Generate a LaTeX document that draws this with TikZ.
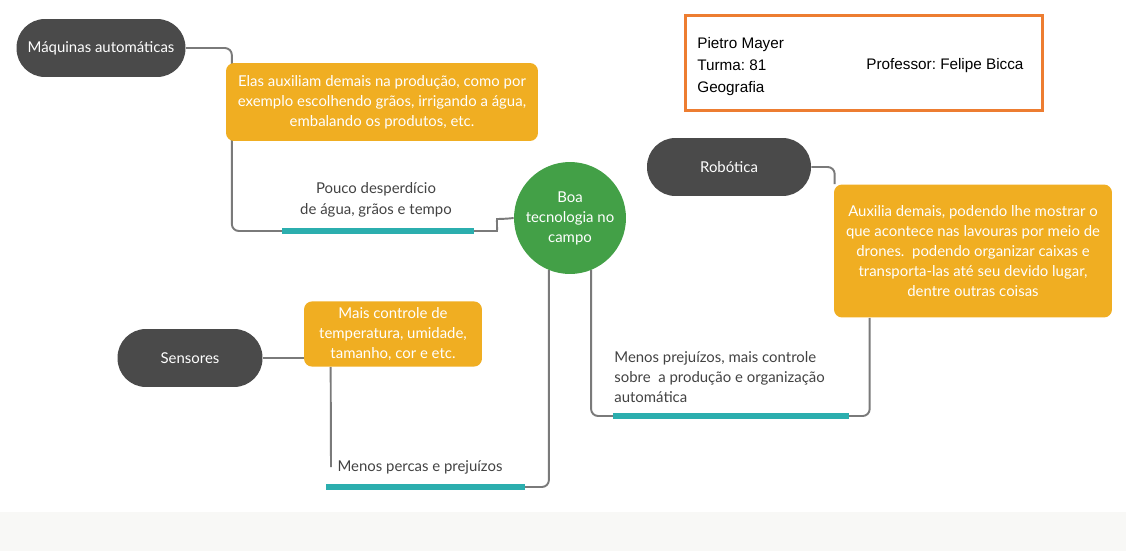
\documentclass[tikz,border=0pt]{standalone}
\usepackage{fontspec}
\setmainfont{Lato}
\newfontfamily\arialfont{Liberation Sans}
\usetikzlibrary{positioning,backgrounds}

\definecolor{topicgray}{RGB}{74,74,74}
\definecolor{noteorange}{RGB}{240,174,34}
\definecolor{hubgreen}{RGB}{67,160,71}
\definecolor{barteal}{RGB}{43,174,174}
\definecolor{linkgray}{RGB}{122,122,122}
\definecolor{remarkgray}{RGB}{66,66,66}
\definecolor{frameorange}{RGB}{237,125,49}
\definecolor{bandgray}{RGB}{248,248,246}

\begin{document}
\frenchspacing
\begin{tikzpicture}[x=0.02cm,y=-0.02cm,
	% Topic style
	topic/.style={rectangle,fill=topicgray,text=white,rounded corners=0.57cm,minimum height=1.16cm,font=\fontsize{8.5}{11.4}\selectfont},
	% Note style
	note/.style={rectangle,fill=noteorange,text=white,rounded corners=0.16cm,align=center,font=\fontsize{8.5}{11.5}\selectfont},
	% Hub style
	hub/.style={circle,fill=hubgreen,text=white,minimum size=2.24cm,inner sep=0pt,align=center,font=\fontsize{8.5}{11.4}\selectfont},
	% Remark style
	remark/.style={text=remarkgray,inner sep=0pt,font=\fontsize{8.5}{11.6}\selectfont},
	info/.style={text=black,inner sep=0pt,anchor=west,font=\arialfont\fontsize{8.7}{12.5}\selectfont},
	% Edges style
	link/.style={draw=linkgray,line width=1.1pt,rounded corners=0.14cm},
	bar/.style={draw=barteal,line width=3.9pt}
	]
	\useasboundingbox (0,0) rectangle (1126,551);
	\fill[bandgray] (0,512) rectangle (1126,551);
	%% Draw topics and notes
	\node (boa) [hub] at (570,218) {Boa\\tecnologia no\\campo};
	\node (maq) [topic,minimum width=3.38cm] at (101,48) {Máquinas automáticas};
	\node (maqnote) [note,minimum width=6.24cm,minimum height=1.56cm] at (382,102) {Elas auxiliam demais na produção, como por\\exemplo escolhendo grãos, irrigando a água,\\embalando os produtos, etc.};
	\node (rob) [topic,minimum width=3.28cm] at (729,167) {Robótica};
	\node (robnote) [note,minimum width=5.56cm,minimum height=2.66cm] at (973,251) {Auxilia demais, podendo lhe mostrar o\\que acontece nas lavouras por meio de\\drones.~ podendo organizar caixas e\\transporta-las até seu devido lugar,\\dentre outras coisas};
	\node (sens) [topic,minimum width=2.9cm] at (190,358) {Sensores};
	\node (sensnote) [note,minimum width=3.56cm,minimum height=1.14cm] at (393,334) {Mais controle de\\temperatura, umidade,\\tamanho, cor e etc.};
	%% Remarks over the bars
	\node (pouco) [remark,align=center] at (376,200) {Pouco desperdício\\de água, grãos e tempo};
	\node (menos) [remark,align=left,anchor=west] at (614,377) {Menos prejuízos, mais controle\\sobre~ a produção e organização\\automática};
	\node (percas) [remark] at (420,467) {Menos percas e prejuízos};
	\coordinate (poucow) at (282,231);
	\coordinate (poucoe) at (474,231);
	\coordinate (menosw) at (613,416);
	\coordinate (menose) at (849,416);
	\coordinate (percasw) at (326,487);
	\coordinate (percase) at (525,487);
	\coordinate (percasend) at (331,467);
	\draw[bar] (poucow) -- (poucoe);
	\draw[bar] (menosw) -- (menose);
	\draw[bar] (percasw) -- (percase);
	%% Header
	\node (frame) [draw=frameorange,line width=1.7pt,minimum width=7.14cm,minimum height=1.9cm] at (864,63) {};
	\node (student) [info,align=left] at (697,67) {Pietro Mayer\\Turma: 81\\Geografia};
	\node (teacher) [info] at (866,66) {Professor: Felipe Bicca};
	%% Draw edges
	\begin{scope}[on background layer]
		\draw[link] (maq.east) -- ++(46,0) |- (poucow);
		\draw[link] (poucoe) -- ++(16,0) to[out=0,in=180] ++(14,-12) -- (boa.west);
		\draw[link] (rob.east) -| ([xshift=0.02cm]robnote.north west);
		\draw[link] ([xshift=0.72cm]robnote.south west) |- (menose);
		\draw[link] (boa.-68) |- (menosw);
		\draw[link] (boa.-112) |- (percase);
		\draw[link] (sens.east) -- (sens.east -| sensnote.west);
		\draw[link] ([xshift=0.54cm]sensnote.south west) -- (percasend);
	\end{scope}
\end{tikzpicture}
\end{document}
